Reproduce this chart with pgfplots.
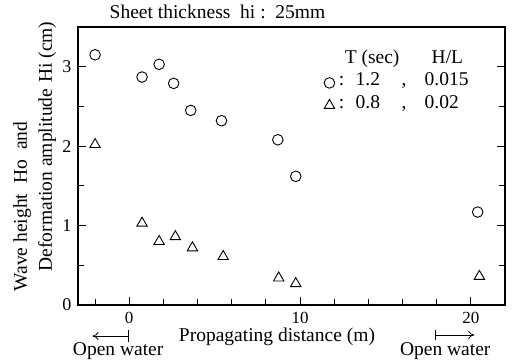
\documentclass[border=0pt]{standalone}
\usepackage{fontspec}
\setmainfont{Liberation Serif}
\usepackage{pgfplots}
\pgfplotsset{compat=1.18}
\usetikzlibrary{arrows.meta}
\begin{document}
\fontsize{19.5}{23}\selectfont
\begin{tikzpicture}
\begin{axis}[
 width=427pt, height=278pt, scale only axis,
 xmin=-3, xmax=22, ymin=0, ymax=3.5,
 xtick={0,10,20}, xticklabels={0,10,20},
 minor xtick={-2,2,4,6,8,12,14,16,18},
 ytick={0,1,2,3}, yticklabels={0,1,2,3},
 minor ytick={0.5,1.5,2.5},
 tick align=inside, xtick pos=bottom, ytick pos=both, yticklabel pos=left,
 major tick length=8pt, minor tick length=6pt,
 axis line style={line width=1.1pt},
 every tick/.style={black, line width=0.9pt},
 /pgf/number format/assume math mode=true,
 x tick label style={font=\fontsize{17}{17}\selectfont},
 y tick label style={font=\fontsize{18}{18}\selectfont},
 clip=false,
 legend cell align=left,
 legend image code/.code={\draw[#1] plot coordinates {(0pt,0pt)};},
 legend style={draw=none, fill=none, at={(0.576,0.921)}, anchor=north west,
   font=\fontsize{19.5}{23}\selectfont, inner sep=0pt, column sep=0pt, row sep=0pt,
   nodes={inner xsep=1pt, inner ysep=0pt, text height=14pt, text depth=8.5pt}},
]
\addlegendimage{empty legend}
\addlegendentry{\hspace*{9pt}\makebox[87pt][l]{T (sec)}H/L}
\addplot[only marks, black, mark=o, mark size=5.3pt, mark options={line width=0.9pt}] coordinates {
 (-2,3.15) (0.75,2.87) (1.75,3.03) (2.6,2.79) (3.6,2.45) (5.4,2.32) (8.7,2.08) (9.75,1.62) (20.4,1.17)
};
\addlegendentry{\hspace*{3pt}\makebox[17pt][l]{:}\makebox[46pt][l]{1.2}\makebox[23pt][l]{,}0.015}
\addplot[only marks, black, mark=triangle, mark size=6pt, mark options={line width=0.9pt}] coordinates {
 (-2,2.02) (0.75,1.03) (1.75,0.80) (2.7,0.86) (3.7,0.72) (5.5,0.61) (8.75,0.34) (9.75,0.27) (20.5,0.36)
};
\addlegendentry{\hspace*{3pt}\makebox[17pt][l]{:}\makebox[46pt][l]{0.8}\makebox[23pt][l]{,}0.02}

\node[anchor=base west] at ([xshift=25pt,yshift=8pt]rel axis cs:0,1) {Sheet thickness\ \ hi\ :\ \ 25mm};
\node[rotate=90, anchor=base west] at ([xshift=-51pt,yshift=7pt]rel axis cs:0,0) {Wave height\hspace{10pt}Ho\hspace{10pt}and};
\node[rotate=90, anchor=base west] at ([xshift=-26pt,yshift=27pt]rel axis cs:0,0) {Deformation amplitude\hspace{6pt}Hi (cm)};
\node[anchor=base] at ([yshift=-37pt]axis cs:8.65,0) {Propagating distance (m)};
\node[anchor=base] at ([yshift=-51pt]axis cs:-0.65,0) {Open water};
\node[anchor=base] at ([yshift=-51pt]axis cs:18.5,0) {Open water};
\draw[line width=0.8pt, {Bar[width=12pt]}-{To[length=6pt,width=8pt]}] ([yshift=-31pt]axis cs:0,0) -- ([yshift=-31pt]axis cs:-2.15,0);
\draw[line width=0.8pt, {Bar[width=10pt]}-{To[length=6pt,width=8pt]}] ([yshift=-30pt]axis cs:17.9,0) -- ([yshift=-30pt]axis cs:20.2,0);
\end{axis}
\pgfresetboundingbox
\path ([xshift=-78pt,yshift=-55pt]current axis.south west) rectangle ([xshift=9pt,yshift=27pt]current axis.north east);
\end{tikzpicture}
\end{document}
